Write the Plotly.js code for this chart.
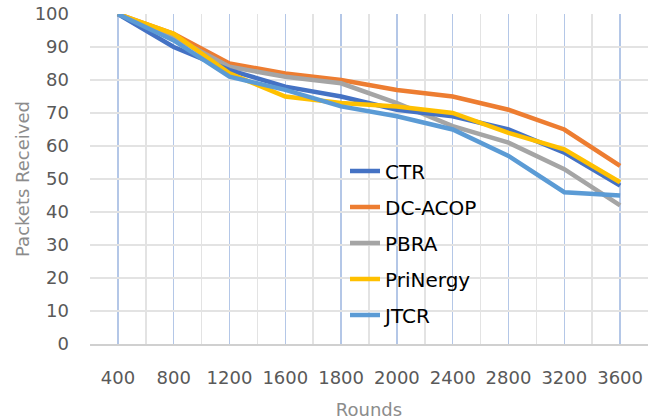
<!DOCTYPE html>
<html>
<head>
<meta charset="utf-8">
<script src="https://cdn.plot.ly/plotly-3.0.1.min.js"></script>
<style>html,body{margin:0;padding:0;background:#fff;}#chart{width:657px;height:420px;}</style>
</head>
<body>
<div id="chart"></div>
<script>
const rounds = ["400","800","1200","1600","1800","2000","2400","2800","3200","3600"];
const seriesNames = ["CTR","DC-ACOP","PBRA","PriNergy","JTCR"];
const ctr      = [100, 90, 83, 78, 75, 71, 69, 65, 58, 48];
const dcAcop   = [100, 94, 85, 82, 80, 77, 75, 71, 65, 54];
const pbra     = [100, 93, 84, 81, 79, 73, 66, 61, 53, 42];
const prinergy = [100, 94, 82, 75, 73, 72, 70, 64, 59, 49];
const jtcr     = [100, 92, 81, 77, 72, 69, 65, 57, 46, 45];
const yTicks = [0,10,20,30,40,50,60,70,80,90,100];

const colors = ["#4472C4","#ED7D31","#A5A5A5","#FFC000","#5B9BD5"];
const values = [ctr, dcAcop, pbra, prinergy, jtcr];
const xIdx = rounds.map((_, i) => i);
const drawOrder = [1,2,0,3,4];

const traces = drawOrder.map(k => ({
  type: "scatter", mode: "lines",
  x: xIdx, y: values[k], name: seriesNames[k],
  legendrank: k + 1, legendgroup: "g" + k,
  line: {color: colors[k], width: 4.5},
  hoverinfo: "skip"
}));

const layout = {
  width: 657, height: 420,
  margin: {l: 90, r: 9, t: 14, b: 76},
  paper_bgcolor: "#ffffff", plot_bgcolor: "#ffffff",
  font: {family: "DejaVu Sans", color: "#595959", size: 18},
  showlegend: true,
  legend: {
    x: 0.457, y: 0.583, xanchor: "left", yanchor: "top",
    bgcolor: "rgba(0,0,0,0)", font: {size: 20, color: "#000000"},
    tracegroupgap: 7, itemwidth: 30
  },
  xaxis: {
    type: "linear", range: [-0.5, 9.5],
    tickmode: "array", tickvals: xIdx, ticktext: rounds,
    showgrid: true, gridcolor: "#b4c7e7", gridwidth: 1.5,
    minor: {tickmode: "linear", tick0: -0.5, dtick: 1, showgrid: true, gridcolor: "#e3e3e3", gridwidth: 1.5, ticks: ""},
    zeroline: false, showline: true, linecolor: "#d0d0d0", linewidth: 2,
    ticks: "", ticklabelstandoff: 16,
    tickfont: {size: 18, color: "#595959"},
    title: {text: "Rounds", font: {size: 18, color: "#8c8c8c"}, standoff: 18}
  },
  yaxis: {
    range: [0, 100], tickmode: "array", tickvals: yTicks,
    showgrid: true, gridcolor: "#e3e3e3", gridwidth: 1.5,
    zeroline: false, showline: false, ticks: "", ticklabelstandoff: 20,
    tickfont: {size: 18, color: "#595959"},
    title: {text: "Packets Received", font: {size: 18, color: "#8c8c8c"}, standoff: 0}
  }
};

Plotly.newPlot("chart", traces, layout, {displayModeBar: false, staticPlot: true});
</script>
</body>
</html>
